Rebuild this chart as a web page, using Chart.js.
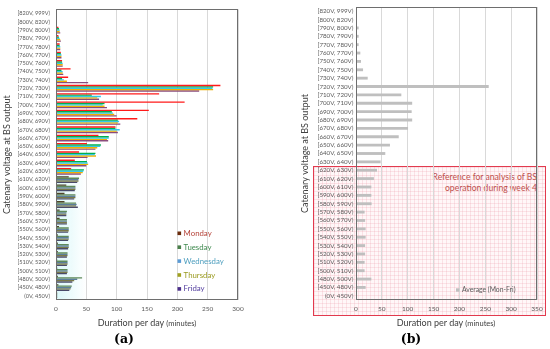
<!DOCTYPE html>
<html>
<head>
<meta charset="utf-8">
<script src="https://cdn.jsdelivr.net/npm/chart.js@4.4.0/dist/chart.umd.min.js"></script>
<style>
  body { margin: 0; width: 550px; height: 349px; background: #fff; position: relative; overflow: hidden; font-family: Lato, sans-serif; }
  canvas { position: absolute; top: 0; }
  #graficoA { left: 0; }
  #graficoB { left: 300px; }
  #cajaRoja {
    position: absolute; left: 313px; top: 166px; width: 231px; height: 148px;
    border: 1.5px solid #e23a4e;
    background-color: #fff7f8;
    background-image: linear-gradient(rgba(240, 170, 182, 0.28) 1px, transparent 1px),
                      linear-gradient(90deg, rgba(240, 170, 182, 0.28) 1px, transparent 1px);
    background-size: 4px 4px;
  }
  #textoCaja { position: absolute; right: 13px; top: 172px; font-size: 8.6px; line-height: 11px; color: #c0504d; text-align: right; }
  .tituloX { position: absolute; top: 317px; transform: translateX(-50%); white-space: nowrap; font-size: 9px; color: #404040; }
  .tituloX span { font-size: 7.5px; }
  .letra { position: absolute; top: 331px; transform: translateX(-50%); font-family: "DejaVu Serif", serif; font-weight: bold; font-size: 12.5px; color: #000; }
</style>
</head>
<body>
<div id="cajaRoja"></div>
<div id="textoCaja">Reference for analysis of BS<br>operation during week 4</div>
<canvas id="graficoA" width="300" height="349"></canvas>
<canvas id="graficoB" width="250" height="349"></canvas>
<div class="tituloX" style="left:147px">Duration per day <span>(minutes)</span></div>
<div class="tituloX" style="left:446px">Duration per day <span>(minutes)</span></div>
<div class="letra" style="left:124px">(a)</div>
<div class="letra" style="left:411px">(b)</div>
<script>
const categorias = ['[820V, 999V)', '[800V, 820V)', '[790V, 800V)', '[780V, 790V)', '[770V, 780V)',
    '[760V, 770V)', '[750V, 760V)', '[740V, 750V)', '[730V, 740V)', '[720V, 730V)',
    '[710V, 720V)', '[700V, 710V)', '[690V, 700V)', '[680V, 690V)', '[670V, 680V)',
    '[660V, 670V)', '[650V, 660V)', '[640V, 650V)', '[630V, 640V)', '[620V, 630V)',
    '[610V, 620V)', '[600V, 610V)', '[590V, 600V)', '[580V, 590V)', '[570V, 580V)',
    '[560V, 570V)', '[550V, 560V)', '[540V, 550V)', '[530V, 540V)', '[520V, 530V)',
    '[510V, 520V)', '[500V, 510V)', '[480V, 500V)', '[450V, 480V)', '(0V, 450V)']

// minutos por dia, de arriba hacia abajo
const lunes = [0, 1, 4, 4, 6, 8, 10, 24, 20, 271, 170, 212, 153, 134, 98, 70, 51, 38, 31, 25,
    21, 17, 14, 14, 6, 6, 5, 3, 3, 3, 2, 2, 3, 4, 2]
const martes = [0, 1, 5, 5, 6, 8, 10, 9, 10, 259, 59, 80, 92, 102, 98, 87, 74, 65, 51, 46,
    38, 32, 32, 33, 18, 18, 21, 21, 21, 19, 19, 19, 43, 26, 2]
const miercoles = [0, 1, 6, 6, 7, 9, 11, 11, 13, 258, 74, 77, 94, 104, 105, 87, 73, 64, 52, 45,
    37, 32, 32, 34, 17, 18, 21, 21, 21, 19, 19, 19, 35, 25, 2]
const jueves = [0, 1, 6, 7, 7, 9, 11, 11, 18, 259, 68, 80, 96, 102, 100, 84, 68, 66, 53, 44,
    37, 32, 32, 33, 17, 18, 21, 21, 21, 19, 19, 19, 30, 24, 2]
const viernes = [0, 1, 7, 8, 7, 9, 11, 12, 53, 236, 71, 84, 100, 106, 102, 86, 65, 52, 50, 41,
    35, 31, 30, 36, 17, 18, 20, 20, 20, 18, 18, 18, 27, 22, 1]
const promedio = [0, 0.5, 4.5, 4.5, 4.5, 7.7, 9, 13, 22, 256, 87, 108, 107, 108, 100, 82, 65, 56, 47, 40,
    34, 29, 29, 29.5, 16, 17, 18, 18, 17, 17, 16, 16, 29, 18, 1]

const ticksA = [0, 50, 100, 150, 200, 250, 300]
const ticksB = [0, 50, 100, 150, 200, 250, 300, 350]

const fuente = 'Lato'
const corte = 19 // desde [610V, 620V) hacia abajo los colores son apagados

const colores = (vivo, apagado) => categorias.map((c, i) => i <= corte ? vivo : apagado)

const marco = {
    id: 'marco',
    afterDatasetsDraw(chart) {
        const { left, top, right, bottom } = chart.chartArea
        const ctx = chart.ctx
        ctx.save()
        ctx.strokeStyle = '#6e6e6e'
        ctx.lineWidth = 1
        ctx.strokeRect(Math.round(left) + 0.5, Math.round(top) + 0.5,
            Math.round(right - left) - 1, Math.round(bottom - top) - 1)
        ctx.restore()
    }
}

const sombra = {
    id: 'sombra',
    beforeDatasetsDraw(chart) {
        const x = chart.scales.x
        const y = chart.scales.y
        const ctx = chart.ctx
        const x0 = x.getPixelForValue(0)
        const x1 = x.getPixelForValue(50)
        const y0 = y.getPixelForValue(18)
        const grad = ctx.createLinearGradient(x0, 0, x1, 0)
        grad.addColorStop(0, 'rgba(205, 245, 248, 0.7)')
        grad.addColorStop(1, 'rgba(205, 245, 248, 0)')
        ctx.save()
        ctx.fillStyle = grad
        ctx.fillRect(x0, y0, x1 - x0, chart.chartArea.bottom - y0)
        ctx.restore()
    }
}

const leyenda = {
    id: 'leyenda',
    afterDraw(chart, args, opts) {
        const ctx = chart.ctx
        ctx.save()
        ctx.font = `${opts.size}px ${fuente}`
        ctx.textBaseline = 'middle'
        chart.data.datasets.forEach((ds, i) => {
            const y = opts.y + i * opts.gap
            ctx.fillStyle = ds.colorLeyenda
            ctx.fillRect(opts.x, y - opts.caja / 2, opts.caja, opts.caja)
            ctx.fillStyle = ds.colorTexto
            ctx.fillText(ds.label, opts.x + opts.caja + 2.5, y)
        })
        ctx.restore()
    }
}

const ejes = (ticksX, anchoY, fuenteY, paddingY, tituloPad) => ({
    x: {
        min: ticksX[0],
        max: ticksX[ticksX.length - 1],
        afterBuildTicks: (scale) => { scale.ticks = ticksX.map(v => ({ value: v })) },
        afterFit: (scale) => { scale.height = 29 },
        grid: { color: '#d9d9d9', drawTicks: false },
        border: { display: false },
        ticks: { color: '#595959', font: { family: fuente, size: 6.5 }, padding: 5 }
    },
    y: {
        afterFit: (scale) => { scale.width = anchoY },
        grid: { display: false, drawTicks: false },
        border: { display: false },
        ticks: { color: '#595959', font: { family: fuente, size: fuenteY }, padding: paddingY, autoSkip: false },
        title: {
            display: true,
            text: 'Catenary voltage at BS output',
            color: '#404040',
            font: { family: fuente, size: 9 },
            padding: { top: tituloPad, bottom: 0 }
        }
    }
})

const serie = (label, data, vivo, apagado, colorLeyenda, colorTexto) => ({
    label: label,
    data: data,
    backgroundColor: colores(vivo, apagado),
    colorLeyenda: colorLeyenda,
    colorTexto: colorTexto,
    categoryPercentage: 0.82,
    barPercentage: 1
})

new Chart(document.getElementById('graficoA'), {
    type: 'bar',
    data: {
        labels: categorias,
        datasets: [
            serie('Monday', lunes, '#ff1a1a', '#4f4628', '#6b2c0c', '#b5443a'),
            serie('Tuesday', martes, '#00b050', '#5f8a5a', '#4a7f4a', '#3f8a4f'),
            serie('Wednesday', miercoles, '#33c8ec', '#5c7f9c', '#5b9bd5', '#4f9fbf'),
            serie('Thursday', jueves, '#f0b000', '#7a7848', '#a0a020', '#9a9a20'),
            serie('Friday', viernes, '#8a4c7c', '#4a4a6a', '#4b2e8a', '#5540a0')
        ]
    },
    options: {
        indexAxis: 'y',
        responsive: false,
        animation: false,
        layout: { padding: { left: 0, right: 62, top: 7, bottom: 20 } },
        scales: ejes(ticksA, 56, 5.6, 6, 2),
        plugins: {
            legend: { display: false },
            tooltip: { enabled: false },
            leyenda: { x: 177.5, y: 233.3, gap: 13.9, caja: 3.6, size: 7.8 }
        }
    },
    plugins: [sombra, marco, leyenda]
})

new Chart(document.getElementById('graficoB'), {
    type: 'bar',
    data: {
        labels: categorias,
        datasets: [{
            label: 'Average (Mon-Fri)',
            data: promedio,
            backgroundColor: '#bfbfbf',
            colorLeyenda: '#bfbfbf',
            colorTexto: '#595959',
            barThickness: 2.2
        }]
    },
    options: {
        indexAxis: 'y',
        responsive: false,
        animation: false,
        layout: { padding: { left: 0, right: 13, top: 7, bottom: 20 } },
        scales: ejes(ticksB, 56, 6.2, 2.5, 0),
        plugins: {
            legend: { display: false },
            tooltip: { enabled: false },
            leyenda: { x: 156, y: 290, gap: 0, caja: 3.4, size: 6.8 }
        }
    },
    plugins: [marco, leyenda]
})
</script>
</body>
</html>
